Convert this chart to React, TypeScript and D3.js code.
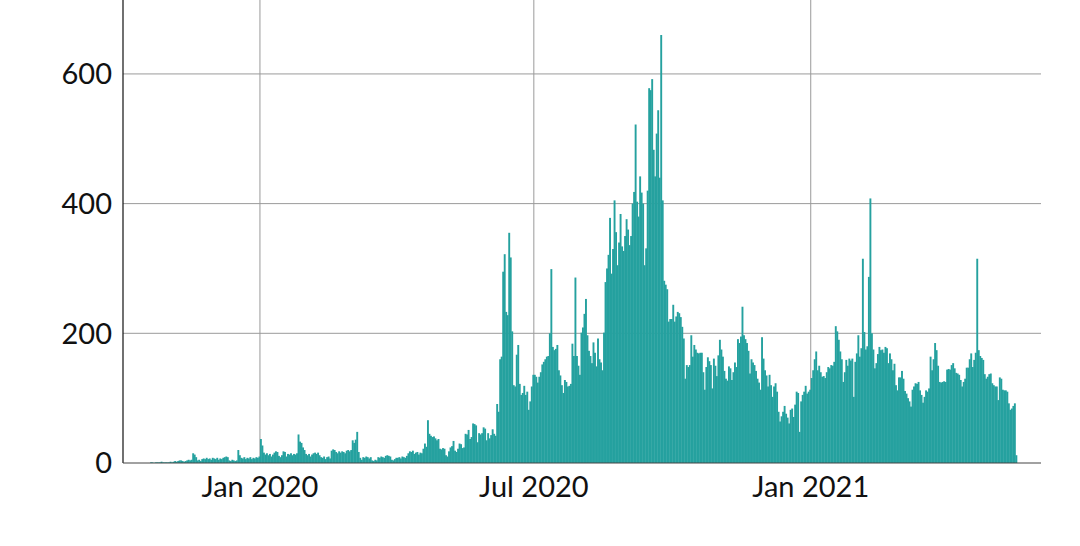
import * as d3 from 'd3';

// daily counts, one array per month (first day: 2019-10-20)
const startDay = new Date(2019, 9, 20);
const oct2019 = [1, 1, 0, 1, 1, 1, 1, 2, 1, 1, 1, 1];
const nov2019 = [1, 2, 1, 2, 3, 2, 3, 4, 4, 3, 2, 3, 4, 5, 4, 5, 15, 13, 9, 4, 5, 3, 6, 7, 6, 8, 6, 7, 5, 8];
const dec2019 = [7, 6, 8, 5, 7, 6, 8, 9, 10, 9, 4, 3, 5, 4, 3, 4, 20, 12, 8, 7, 9, 6, 8, 7, 9, 6, 8, 7, 9, 8, 10];
const jan2020 = [37, 27, 16, 13, 15, 12, 14, 10, 13, 16, 18, 17, 11, 9, 12, 18, 17, 10, 14, 13, 15, 12, 14, 13, 15, 44, 33, 31, 24, 20, 14];
const feb2020 = [12, 14, 10, 13, 15, 16, 14, 16, 12, 9, 8, 10, 6, 9, 10, 7, 19, 21, 20, 17, 15, 18, 16, 18, 17, 15, 19, 20, 18];
const mar2020 = [20, 35, 31, 36, 48, 17, 8, 5, 9, 8, 10, 9, 7, 9, 4, 3, 5, 4, 9, 8, 10, 9, 8, 11, 12, 11, 10, 5, 4, 6, 8];
const apr2020 = [8, 9, 7, 10, 9, 8, 11, 15, 18, 17, 19, 14, 16, 17, 13, 16, 15, 22, 30, 25, 66, 45, 42, 40, 41, 38, 35, 37, 22, 21];
const may2020 = [23, 22, 12, 10, 18, 24, 26, 34, 19, 17, 22, 30, 29, 23, 24, 45, 44, 51, 37, 40, 61, 60, 58, 32, 46, 44, 46, 55, 53, 35, 46];
const jun2020 = [38, 43, 52, 45, 42, 91, 79, 160, 164, 295, 322, 233, 228, 355, 317, 203, 120, 118, 167, 182, 122, 105, 108, 119, 105, 110, 82, 95, 118, 136];
const jul2020 = [136, 133, 124, 133, 140, 152, 156, 160, 164, 165, 200, 299, 179, 174, 176, 182, 143, 135, 120, 108, 128, 125, 118, 119, 122, 184, 165, 286, 165, 150, 136];
const aug2020 = [201, 209, 230, 253, 197, 173, 165, 154, 186, 170, 149, 192, 160, 155, 143, 201, 279, 300, 321, 378, 292, 330, 405, 356, 305, 340, 384, 334, 327, 350, 376];
const sep2020 = [360, 336, 350, 400, 418, 522, 403, 380, 442, 417, 400, 305, 331, 420, 578, 575, 592, 483, 442, 508, 544, 440, 660, 405, 281, 275, 268, 218, 222, 222];
const oct2020 = [244, 218, 226, 233, 231, 225, 210, 192, 130, 151, 148, 151, 197, 164, 182, 175, 170, 169, 170, 170, 140, 113, 148, 163, 157, 151, 115, 161, 150, 134, 166];
const nov2020 = [190, 175, 164, 142, 130, 127, 149, 146, 128, 140, 155, 148, 191, 185, 195, 241, 197, 191, 185, 173, 138, 160, 155, 151, 142, 130, 124, 113, 194, 161];
const dec2020 = [143, 135, 118, 136, 120, 102, 118, 123, 110, 79, 64, 72, 79, 88, 76, 70, 61, 82, 84, 71, 90, 110, 108, 48, 95, 105, 110, 119, 107, 110, 113];
const jan2021 = [131, 143, 160, 172, 143, 150, 140, 133, 134, 131, 140, 148, 146, 151, 150, 156, 211, 203, 190, 172, 160, 125, 140, 159, 150, 161, 158, 161, 102, 156, 169];
const feb2021 = [197, 164, 177, 315, 202, 175, 180, 287, 408, 200, 175, 146, 154, 168, 179, 174, 175, 170, 179, 177, 154, 169, 160, 143, 153, 120, 112, 132];
const mar2021 = [132, 142, 130, 111, 107, 100, 95, 87, 113, 118, 123, 122, 125, 112, 105, 93, 102, 112, 110, 115, 164, 143, 160, 185, 174, 150, 125, 124, 125, 126, 125];
const apr2021 = [144, 145, 144, 151, 154, 146, 139, 138, 136, 128, 118, 125, 130, 147, 147, 160, 169, 148, 159, 170, 315, 174, 165, 162, 159, 137, 130, 133, 137, 138];
const may2021 = [123, 120, 118, 118, 97, 132, 130, 113, 112, 112, 110, 92, 82, 84, 88, 92, 12];

const yTicks = [0, 200, 400, 600];
const xTicks = [new Date(2020, 0, 1), new Date(2020, 6, 1), new Date(2021, 0, 1)];
const xTickLabels = ['Jan 2020', 'Jul 2020', 'Jan 2021'];

const counts = [
  ...oct2019, ...nov2019, ...dec2019, ...jan2020, ...feb2020, ...mar2020, ...apr2020,
  ...may2020, ...jun2020, ...jul2020, ...aug2020, ...sep2020, ...oct2020, ...nov2020,
  ...dec2020, ...jan2021, ...feb2021, ...mar2021, ...apr2021, ...may2021,
];

const width = 1080;
const height = 546;
const margin = { top: 0, right: 39, bottom: 83, left: 123 };
const font = 'Lato, "Noto Sans", sans-serif';
const teal = '#25a19f';

export default function App() {
  const x = d3.scaleTime()
    .domain([new Date(2019, 9, 2), new Date(2021, 5, 3)])
    .range([margin.left, width - margin.right]);
  const y = d3.scaleLinear()
    .domain([0, 714])
    .range([height - margin.bottom, margin.top]);

  const days = counts.map((v, i) => ({ date: d3.timeDay.offset(startDay, i), value: v }));

  return (
    <svg width={width} height={height} style={{ position: 'absolute', left: 0, top: 0, background: '#fff' }}>
      {/* grid */}
      {yTicks.filter(t => t > 0).map(t => (
        <line key={'gy' + t} x1={margin.left} x2={width - margin.right} y1={y(t)} y2={y(t)} stroke="#9a9a9a" strokeWidth={1} />
      ))}
      {xTicks.map((t, i) => (
        <line key={'gx' + i} x1={x(t)} x2={x(t)} y1={margin.top} y2={y(0)} stroke="#9a9a9a" strokeWidth={1} />
      ))}

      {/* bars */}
      <g fill={teal}>
        {days.map((d, i) => {
          const x0 = x(d.date);
          const x1 = x(d3.timeDay.offset(d.date, 1));
          return <rect key={i} x={x0} y={y(d.value)} width={x1 - x0 + 0.4} height={y(0) - y(d.value)} />;
        })}
      </g>

      {/* axes */}
      <line x1={margin.left} x2={margin.left} y1={margin.top} y2={y(0)} stroke="#111" strokeWidth={1.2} />
      <line x1={margin.left} x2={width - margin.right} y1={y(0)} y2={y(0)} stroke="#444" strokeWidth={1.2} />

      {yTicks.map(t => (
        <text key={'ty' + t} x={margin.left - 11} y={y(t)} dy="0.36em" textAnchor="end"
          fontFamily={font} fontSize={29} fill="#111">{t}</text>
      ))}
      {xTicks.map((t, i) => (
        <text key={'tx' + i} x={x(t)} y={497} textAnchor="middle"
          fontFamily={font} fontSize={29} fill="#111">{xTickLabels[i]}</text>
      ))}
    </svg>
  );
}
